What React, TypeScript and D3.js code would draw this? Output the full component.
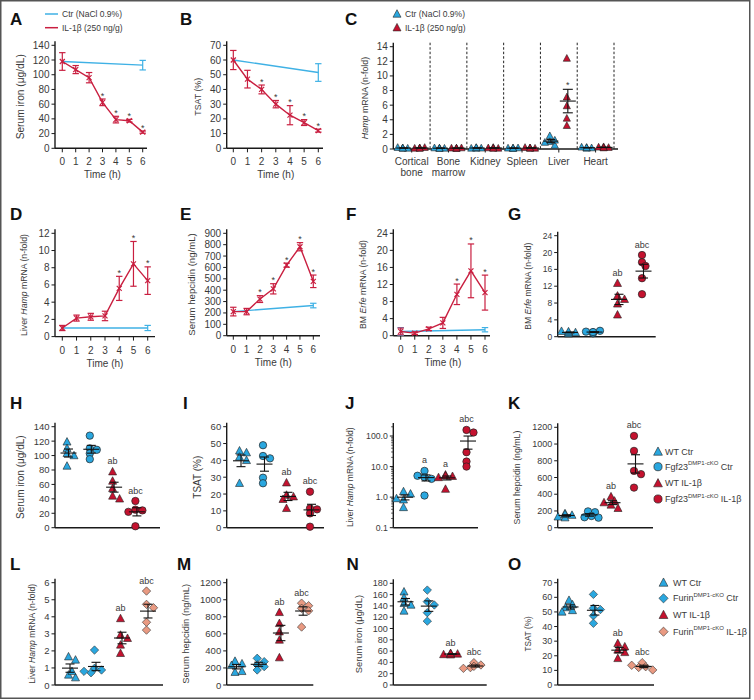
import React from 'react';
import * as d3 from 'd3';

const FONT = "'Liberation Sans', Arial, Helvetica, sans-serif";
const C_BLUE = '#2aa7df';
const C_RED = '#c4122f';
const C_PINK = '#e99a82';
const L_BLUE = '#3fb1e5';
const L_RED = '#c91f40';
const INK = '#1a1a1a';
const TXT = '#3a3a3a';

// ---------------- time-course data (A, B, D, E, F) ----------------
const timeH = [0, 1, 2, 3, 4, 5, 6];
const ctrTimes = [0, 6];

const ironIL = [118, 107, 96, 62.5, 39, 37.5, 22];
const ironILErr = [12, 5.5, 7, 4.5, 4.5, 1.8, 1.5];
const ironCtr = [118, 113];
const ironCtrErr = [0, 6.5];
const ironSig = [3, 4, 5, 6];

const tsatIL = [60, 47, 40, 30, 22.5, 17.5, 12];
const tsatILErr = [6.5, 6, 3, 2.5, 6.5, 2, 1];
const tsatCtr = [60, 51.5];
const tsatCtrErr = [0, 6];
const tsatSig = [2, 3, 4, 5, 6];

const hampIL = [1.0, 2.15, 2.3, 2.4, 5.6, 8.45, 6.5];
const hampILErr = [0.3, 0.35, 0.4, 0.55, 1.4, 2.6, 1.6];
const hampCtr = [1, 1];
const hampCtrErr = [0, 0.3];
const hampSig = [4, 5, 6];

const hepIL = [212, 212, 322, 412, 620, 782, 478];
const hepILErr = [38, 28, 30, 45, 18, 36, 55];
const hepCtr = [212, 265];
const hepCtrErr = [0, 20];
const hepSig = [2, 3, 4, 5, 6];

const erfeIL = [1.0, 0.6, 1.6, 3.0, 9.7, 15.2, 10.1];
const erfeILErr = [0.8, 0.3, 0.4, 1.3, 2.4, 6.3, 4.1];
const erfeCtr = [1.0, 1.4];
const erfeCtrErr = [0.9, 0.5];
const erfeSig = [4, 5, 6];

// ---------------- tissue Hamp (C) ----------------
const tissueLines = [['Cortical', 'bone'], ['Bone', 'marrow'], ['Kidney'], ['Spleen'], ['Liver'], ['Heart']];
const tissueCtr = [
  [0.15, 0.1, 0.2, 0.1, 0.12],
  [0.12, 0.1, 0.15, 0.1, 0.08],
  [0.15, 0.12, 0.1, 0.1, 0.2],
  [0.1, 0.15, 0.12, 0.1, 0.1],
  [1.8, 1.0, 0.5, 1.2, 0.9],
  [0.2, 0.15, 0.25, 0.1, 0.18],
];
const tissueIL = [
  [0.15, 0.2, 0.1, 0.12, 0.1],
  [0.1, 0.15, 0.12, 0.1, 0.1],
  [0.2, 0.1, 0.15, 0.12, 0.1],
  [0.15, 0.1, 0.2, 0.1, 0.12],
  [12.4, 7.1, 5.9, 4.2, 3.2],
  [0.3, 0.2, 0.25, 0.15, 0.2],
];
const tissueSig = [4];

// ---------------- dot plots ----------------
const erfeG = [[0.7, 1.0, 1.3, 0.9, 1.2], [1.0, 1.4, 1.2, 0.8, 1.1], [12.7, 9.7, 8.9, 7.8, 5.2], [19.4, 17.7, 16.8, 13.9, 10.1]];
const ironH = [[119, 110, 103, 100, 85.5], [127.6, 110, 108, 103, 95], [77.6, 64.7, 54.5, 44, 40], [37, 25, 24, 22, 2]];
const tsatI = [[45.7, 44.6, 42, 40, 26.4], [49, 42.6, 41.2, 29.7, 26.4], [26.7, 19.4, 18.4, 16.9, 11.5], [21.4, 11.5, 10.9, 8.5, 0.6]];
const hampJ = [[1.52, 1.28, 0.82, 0.46, 0.9], [7.2, 4.5, 3.96, 1.13, 5.0], [5.35, 4.8, 4.4, 1.83, 5.0], [158, 130, 29.5, 14.6, 10]];
const hepK = [[170, 150, 130, 120, 160], [195, 185, 140, 125, 120], [371, 320, 272, 232, 300], [1097, 918, 679, 640, 479]];
const hampL = [[1.66, 1.47, 0.59, 0.43, 0.8], [2.05, 0.98, 0.88, 0.72, 0.8], [3.9, 2.93, 2.74, 2.35, 1.86], [5.51, 4.73, 4.53, 3.68, 3.22]];
const hepM = [[280, 250, 230, 150, 160], [313, 274, 235, 215, 176], [852, 723, 625, 528, 321], [960, 930, 900, 870, 680]];
const ironN = [[165, 154.5, 144.5, 141.6, 131], [168, 147.5, 141.6, 128, 113], [56, 55, 54, 53.5, 55.5], [39.5, 35.4, 30.7, 29.5, 33]];
const tsatO = [[58, 55, 53, 51, 50], [62, 52.5, 51.6, 47.4, 42.2], [28.5, 26.2, 24, 22.3, 18.2], [15.3, 12.5, 12, 10.3, 13.5]];

const sigG = ['', '', 'ab', 'abc'];
const sigH = ['', '', 'ab', 'abc'];
const sigI = ['', '', 'ab', 'abc'];
const sigJ = ['', 'a', 'a', 'abc'];
const sigK = ['', '', 'ab', 'abc'];
const sigL = ['', '', 'ab', 'abc'];
const sigM = ['', '', 'ab', 'abc'];
const sigN = ['', '', 'ab', 'abc'];
const sigO = ['', '', 'ab', 'abc'];

const fgfShapes = ['tri', 'circ', 'tri', 'circ'];
const fgfColors = [C_BLUE, C_BLUE, C_RED, C_RED];
const furShapes = ['tri', 'dia', 'tri', 'dia'];
const furColors = [C_BLUE, C_BLUE, C_RED, C_PINK];

const fgfLegend = [
  { base: 'WT Ctr', sup: '', rest: '' },
  { base: 'Fgf23', sup: 'DMP1-cKO', rest: ' Ctr' },
  { base: 'WT IL-1β', sup: '', rest: '' },
  { base: 'Fgf23', sup: 'DMP1-cKO', rest: ' IL-1β' },
];
const furLegend = [
  { base: 'WT Ctr', sup: '', rest: '' },
  { base: 'Furin', sup: 'DMP1-cKO', rest: ' Ctr' },
  { base: 'WT IL-1β', sup: '', rest: '' },
  { base: 'Furin', sup: 'DMP1-cKO', rest: ' IL-1β' },
];

const jTicks = [0.1, 1, 10, 100];
const jDecades = [0.1, 1, 10, 100];

// ---------------- helpers ----------------
function Marker({ shape, x, y, fill, s = 1 }: any) {
  if (shape === 'circ') return <circle cx={x} cy={y} r={3.7 * s} fill={fill} stroke="#222" strokeWidth={0.7} />;
  if (shape === 'dia') {
    const h = 4.2 * s;
    return <path d={`M${x},${y - h}L${x + h},${y}L${x},${y + h}L${x - h},${y}Z`} fill={fill} stroke="#333" strokeWidth={0.6} />;
  }
  const w = 4 * s, ht = 4.3 * s, hb = 3.2 * s;
  return <path d={`M${x},${y - ht}L${x + w},${y + hb}L${x - w},${y + hb}Z`} fill={fill} stroke="#222" strokeWidth={0.6} />;
}

function spread(ys: number[], d: number, step = 3.5): number[] {
  const placed: [number, number][] = [];
  return ys.map((yv) => {
    const cands = [0, step, -step, 2 * step, -2 * step, 3 * step, -3 * step];
    let best = 0;
    for (const c of cands) {
      if (placed.every(([px, py]) => Math.hypot(px - c, py - yv) >= d)) { best = c; break; }
    }
    placed.push([best, yv]);
    return best;
  });
}

function Letter({ x, y, t }: any) {
  return <text x={x} y={y} fontSize={17} fontWeight={700} fill="#111">{t}</text>;
}

function YAxis({ x, scale, ticks, top, bottom, size, fmt }: any) {
  return (
    <g>
      <line x1={x} x2={x} y1={top} y2={bottom} stroke={INK} strokeWidth={1.4} />
      {ticks.map((t: number) => (
        <g key={t}>
          <line x1={x - 3.5} x2={x} y1={scale(t)} y2={scale(t)} stroke={INK} strokeWidth={1} />
          <text x={x - 5.5} y={scale(t)} textAnchor="end" dominantBaseline="central" fontSize={size} fill={TXT}>
            {fmt ? fmt(t) : t}
          </text>
        </g>
      ))}
    </g>
  );
}

function VTitle({ x, y, size, children }: any) {
  return (
    <text transform={`translate(${x},${y}) rotate(-90)`} textAnchor="middle" dominantBaseline="central" fontSize={size} fill={TXT}>
      {children}
    </text>
  );
}

function ErrBar({ x, lo, hi, color, cap = 3.2 }: any) {
  return (
    <g stroke={color} strokeWidth={1.2}>
      <line x1={x} x2={x} y1={lo} y2={hi} />
      <line x1={x - cap} x2={x + cap} y1={lo} y2={lo} />
      <line x1={x - cap} x2={x + cap} y1={hi} y2={hi} />
    </g>
  );
}

function TimePanel({ cfg, il, ilErr, ctr, ctrErr, sig }: any) {
  const x = d3.scaleLinear().domain([0, 6]).range([cfg.t0, cfg.t6]);
  const y = d3.scaleLinear().domain([0, cfg.max]).range([cfg.y0, cfg.yTop]);
  const ticks = d3.range(0, cfg.max + cfg.step / 2, cfg.step);
  const line = d3.line<number>().x((_, i) => x(timeH[i])).y((d) => y(d));
  const ctrLine = d3.line<number>().x((_, i) => x(ctrTimes[i])).y((d) => y(d));
  return (
    <g>
      <Letter x={cfg.lx} y={cfg.ly} t={cfg.letter} />
      <YAxis x={cfg.ax} scale={y} ticks={ticks} top={cfg.yTop - 4} bottom={cfg.y0} size={cfg.tick} />
      <line x1={cfg.ax} x2={cfg.axEnd} y1={cfg.y0} y2={cfg.y0} stroke={INK} strokeWidth={1.4} />
      {timeH.map((t) => (
        <g key={t}>
          <line x1={x(t)} x2={x(t)} y1={cfg.y0} y2={cfg.y0 + 4} stroke={INK} strokeWidth={1} />
          <text x={x(t)} y={cfg.y0 + 13.5} textAnchor="middle" dominantBaseline="central" fontSize={cfg.tick} fill={TXT}>{t}</text>
        </g>
      ))}
      <text x={(cfg.t0 + cfg.t6) / 2} y={cfg.y0 + 26.5} textAnchor="middle" dominantBaseline="central" fontSize={10} fill={TXT}>Time (h)</text>
      <path d={ctrLine(ctr) || ''} fill="none" stroke={L_BLUE} strokeWidth={1.4} />
      {ctr.map((v: number, i: number) =>
        ctrErr[i] > 0 ? <ErrBar key={i} x={x(ctrTimes[i])} lo={y(v - ctrErr[i])} hi={y(v + ctrErr[i])} color={L_BLUE} /> : null
      )}
      <path d={line(il) || ''} fill="none" stroke={L_RED} strokeWidth={1.4} />
      {il.map((v: number, i: number) => (
        <g key={i}>
          <ErrBar x={x(timeH[i])} lo={y(Math.max(0, v - ilErr[i]))} hi={y(v + ilErr[i])} color={L_RED} />
          <g stroke={L_RED} strokeWidth={1.2}>
            <line x1={x(timeH[i]) - 2.5} x2={x(timeH[i]) + 2.5} y1={y(v) - 2.5} y2={y(v) + 2.5} />
            <line x1={x(timeH[i]) - 2.5} x2={x(timeH[i]) + 2.5} y1={y(v) + 2.5} y2={y(v) - 2.5} />
          </g>
        </g>
      ))}
      {sig.map((i: number) => (
        <text key={i} x={x(timeH[i])} y={y(il[i] + ilErr[i]) - 0.5} textAnchor="middle" fontSize={9} fill={TXT}>*</text>
      ))}
      <VTitle x={cfg.tx} y={(cfg.y0 + cfg.yTop) / 2} size={cfg.tsize}>{cfg.title}</VTitle>
    </g>
  );
}

function MeanSem({ x, scale, vals, w = 8, cap = 4.5 }: any) {
  const m = d3.mean(vals) as number;
  const sem = (d3.deviation(vals) as number) / Math.sqrt(vals.length);
  const lo = scale(Math.max(m - sem, 0.11));
  const hi = scale(m + sem);
  return (
    <g stroke="#111" strokeWidth={1.1}>
      <line x1={x - w} x2={x + w} y1={scale(m)} y2={scale(m)} />
      <line x1={x} x2={x} y1={lo} y2={hi} />
      <line x1={x - cap} x2={x + cap} y1={lo} y2={lo} />
      <line x1={x - cap} x2={x + cap} y1={hi} y2={hi} />
    </g>
  );
}

function DotPanel({ cfg, groups, labels, shapes, colors }: any) {
  const y: any = cfg.log
    ? d3.scaleLog().domain([0.1, 100]).range([cfg.y0, 436])
    : d3.scaleLinear().domain([0, cfg.max]).range([cfg.y0, cfg.yTop]);
  const ticks = cfg.log ? jTicks : d3.range(0, cfg.max + cfg.step / 2, cfg.step);
  const gx = (i: number) => cfg.g0 + i * cfg.gStep;
  const top = cfg.log ? 423 : cfg.yTop - 4;
  const minor: number[] = [];
  if (cfg.log) {
    jDecades.forEach((dec) => d3.range(2, 10).forEach((k) => { const v = dec * k; if (y(v) >= top) minor.push(v); }));
  }
  return (
    <g>
      <Letter x={cfg.lx} y={cfg.ly} t={cfg.letter} />
      <YAxis x={cfg.ax} scale={y} ticks={ticks} top={top} bottom={cfg.y0} size={cfg.tick} fmt={cfg.log ? (t: number) => t.toFixed(1) : undefined} />
      {minor.map((v) => <line key={v} x1={cfg.ax - 2.2} x2={cfg.ax} y1={y(v)} y2={y(v)} stroke={INK} strokeWidth={0.7} />)}
      <line x1={cfg.ax} x2={cfg.axEnd} y1={cfg.y0} y2={cfg.y0} stroke={INK} strokeWidth={1.4} />
      {groups.map((vals: number[], gi: number) => {
        const ys = vals.map((v) => y(v));
        const offs = spread(ys, 5);
        const topY = d3.min(ys) as number;
        return (
          <g key={gi}>
            {vals.map((v, i) => <Marker key={i} shape={shapes[gi]} x={gx(gi) + offs[i]} y={ys[i]} fill={colors[gi]} />)}
            <MeanSem x={gx(gi) + 1.5} scale={y} vals={vals} />
            {labels[gi] ? (
              <text x={gx(gi)} y={topY - 10.5} textAnchor="middle" dominantBaseline="central" fontSize={9} fill={TXT}>{labels[gi]}</text>
            ) : null}
          </g>
        );
      })}
      <VTitle x={cfg.tx} y={(cfg.y0 + cfg.yTop) / 2} size={cfg.tsize}>{cfg.title}</VTitle>
    </g>
  );
}

function Legend({ x, tx, ys, items, shapes, colors, size }: any) {
  return (
    <g>
      {items.map((it: any, i: number) => (
        <g key={i}>
          <Marker shape={shapes[i]} x={x} y={ys[i]} fill={colors[i]} s={1.1} />
          <text x={tx} y={ys[i]} dominantBaseline="central" fontSize={size} fill={TXT}>
            {it.base}
            {it.sup ? <tspan dy={-3.5} fontSize={6}>{it.sup}</tspan> : null}
            {it.sup ? <tspan dy={3.5}>{it.rest}</tspan> : null}
          </text>
        </g>
      ))}
    </g>
  );
}

function TissuePanel() {
  const y = d3.scaleLinear().domain([0, 14]).range([149, 46.7]);
  const band = d3.scaleBand<number>().domain(d3.range(tissueLines.length)).range([393.3, 614]);
  const ticks = d3.range(0, 15, 2);
  const x0 = 393.3, xEnd = 618;
  return (
    <g>
      <Letter x={345} y={25} t="C" />
      <Marker shape="tri" x={397} y={14} fill={C_BLUE} s={1} />
      <text x={405} y={14} dominantBaseline="central" fontSize={8.5} fill={TXT}>Ctr (NaCl 0.9%)</text>
      <Marker shape="tri" x={397} y={27.7} fill={C_RED} s={1} />
      <text x={405} y={27.7} dominantBaseline="central" fontSize={8.5} fill={TXT}>IL-1β (250 ng/g)</text>
      <YAxis x={x0} scale={y} ticks={ticks} top={42.7} bottom={149} size={10} />
      {d3.range(1, tissueLines.length + 1).map((i) => {
        const bx = (band(0) as number) + band.step() * i;
        return <line key={i} x1={bx} x2={bx} y1={42.7} y2={149} stroke="#222" strokeWidth={1} strokeDasharray="2.5,2" />;
      })}
      <line x1={x0} x2={xEnd} y1={149} y2={149} stroke={INK} strokeWidth={1.4} />
      {tissueLines.map((lines, i) => {
        const cx = (band(i) as number) + band.bandwidth() / 2;
        const ctrYs = tissueCtr[i].map((v) => y(v));
        const ilYs = tissueIL[i].map((v) => y(v));
        const oc = spread(ctrYs, 4.5, 2.5);
        const oi = spread(ilYs, 4.5, 2.5);
        const il = tissueIL[i];
        const ilTop = (d3.mean(il) as number) + (d3.deviation(il) as number) / Math.sqrt(il.length);
        return (
          <g key={i}>
            <line x1={cx} x2={cx} y1={149} y2={152.5} stroke={INK} strokeWidth={1} />
            {lines.map((l, j) => (
              <text key={j} x={cx} y={161.7 + j * 11} textAnchor="middle" dominantBaseline="central" fontSize={10} fill={TXT}>{l}</text>
            ))}
            {tissueCtr[i].map((v, k) => <Marker key={'c' + k} shape="tri" x={cx - 9 + oc[k]} y={ctrYs[k]} fill={C_BLUE} s={0.9} />)}
            {il.map((v, k) => <Marker key={'r' + k} shape="tri" x={cx + 8 + oi[k]} y={ilYs[k]} fill={C_RED} s={0.9} />)}
            <MeanSem x={cx - 8} scale={y} vals={tissueCtr[i]} w={7.5} cap={4.5} />
            <MeanSem x={cx + 9} scale={y} vals={il} w={8} cap={5} />
            {tissueSig.includes(i) ? (
              <text x={cx + 9} y={y(ilTop) - 1.5} textAnchor="middle" fontSize={9} fill={TXT}>*</text>
            ) : null}
          </g>
        );
      })}
      <VTitle x={365} y={98} size={8.9}>
        <tspan fontStyle="italic">Hamp</tspan> mRNA (n-fold)
      </VTitle>
    </g>
  );
}

const cfgA = { letter: 'A', lx: 10, ly: 25, ax: 55, axEnd: 147, t0: 62.3, t6: 142.7, y0: 148.3, yTop: 45.3, max: 140, step: 20, tick: 10, tx: 20, tsize: 10.2, title: 'Serum iron (μg/dL)' };
const cfgB = { letter: 'B', lx: 180, ly: 25, ax: 226.7, axEnd: 323, t0: 233.3, t6: 318.3, y0: 148.3, yTop: 45.3, max: 70, step: 10, tick: 10, tx: 198, tsize: 8.8, title: 'TSAT (%)' };
const cfgD = { letter: 'D', lx: 10, ly: 220, ax: 55, axEnd: 155, t0: 62.3, t6: 147.7, y0: 336.6, yTop: 233.3, max: 12, step: 2, tick: 10, tx: 24, tsize: 8.7, title: <>Liver <tspan fontStyle="italic">Hamp</tspan> mRNA (n-fold)</> };
const cfgE = { letter: 'E', lx: 180, ly: 220, ax: 226.7, axEnd: 320, t0: 233.3, t6: 313.3, y0: 335.7, yTop: 233.3, max: 900, step: 100, tick: 10, tx: 191, tsize: 9.6, title: 'Serum hepcidin (ng/mL)' };
const cfgF = { letter: 'F', lx: 346, ly: 220, ax: 393.3, axEnd: 490, t0: 400.7, t6: 485, y0: 335.7, yTop: 233.3, max: 24, step: 4, tick: 10, tx: 363, tsize: 8.7, title: <>BM <tspan fontStyle="italic">Erfe</tspan> mRNA (n-fold)</> };

const cfgG = { letter: 'G', lx: 508, ly: 220, ax: 557.7, axEnd: 655.7, g0: 568.5, gStep: 24.5, y0: 336.7, yTop: 235.7, max: 24, step: 4, tick: 8.5, tx: 528, tsize: 8.5, title: <>BM <tspan fontStyle="italic">Erfe</tspan> mRNA (n-fold)</> };
const cfgH = { letter: 'H', lx: 10, ly: 409, ax: 55, axEnd: 160, g0: 67, gStep: 22.8, y0: 527.7, yTop: 426.7, max: 140, step: 20, tick: 9.5, tx: 20, tsize: 10, title: 'Serum iron (μg/dL)' };
const cfgI = { letter: 'I', lx: 183, ly: 409, ax: 226.7, axEnd: 324, g0: 239.5, gStep: 23.5, y0: 527.7, yTop: 426.7, max: 60, step: 10, tick: 9.5, tx: 197, tsize: 10, title: 'TSAT (%)' };
const cfgJ = { letter: 'J', lx: 345, ly: 409, ax: 393.3, axEnd: 478, g0: 403.5, gStep: 21, y0: 527.7, yTop: 426.7, log: true, tick: 8.7, tx: 350, tsize: 8.5, title: <>Liver <tspan fontStyle="italic">Hamp</tspan> mRNA (n-fold)</> };
const cfgK = { letter: 'K', lx: 508, ly: 409, ax: 557.7, axEnd: 653, g0: 565, gStep: 23, y0: 527.7, yTop: 427.3, max: 1200, step: 200, tick: 9, tx: 517, tsize: 8.8, title: 'Serum hepcidin (ng/mL)' };
const cfgL = { letter: 'L', lx: 10, ly: 570, ax: 55, axEnd: 163, g0: 68.5, gStep: 26, y0: 685, yTop: 582.7, max: 6, step: 1, tick: 9.5, tx: 32, tsize: 8.5, title: <>Liver <tspan fontStyle="italic">Hamp</tspan> mRNA (n-fold)</> };
const cfgM = { letter: 'M', lx: 177, ly: 570, ax: 226.7, axEnd: 313.3, g0: 235, gStep: 22.2, y0: 685, yTop: 582.7, max: 1200, step: 200, tick: 9.5, tx: 185, tsize: 9.4, title: 'Serum hepcidin (ng/mL)' };
const cfgN = { letter: 'N', lx: 346.5, ly: 570, ax: 393.3, axEnd: 486.7, g0: 404, gStep: 23.3, y0: 685, yTop: 583.3, max: 180, step: 20, tick: 9, tx: 358, tsize: 9.4, title: 'Serum iron (μg/dL)' };
const cfgO = { letter: 'O', lx: 508, ly: 570, ax: 557.7, axEnd: 654, g0: 569, gStep: 24.4, y0: 685, yTop: 582.7, max: 70, step: 10, tick: 9, tx: 528, tsize: 8.2, title: 'TSAT (%)' };

export default function App() {
  return (
    <svg width={754} height={700} style={{ position: 'absolute', left: 0, top: 0, background: '#fff' }} fontFamily={FONT}>
      <rect x={0} y={0} width={754} height={700} fill="#fff" />
      <rect x={0.75} y={0.75} width={749} height={697.5} fill="none" stroke="#555" strokeWidth={1.5} />

      {/* legend A/B */}
      <line x1={45} x2={58} y1={14} y2={14} stroke={L_BLUE} strokeWidth={1.5} />
      <text x={62} y={14} dominantBaseline="central" fontSize={8.5} fill={TXT}>Ctr (NaCl 0.9%)</text>
      <line x1={45} x2={58} y1={27.7} y2={27.7} stroke={L_RED} strokeWidth={1.5} />
      <text x={62} y={27.7} dominantBaseline="central" fontSize={8.5} fill={TXT}>IL-1β (250 ng/g)</text>

      <TimePanel cfg={cfgA} il={ironIL} ilErr={ironILErr} ctr={ironCtr} ctrErr={ironCtrErr} sig={ironSig} />
      <TimePanel cfg={cfgB} il={tsatIL} ilErr={tsatILErr} ctr={tsatCtr} ctrErr={tsatCtrErr} sig={tsatSig} />
      <TissuePanel />
      <TimePanel cfg={cfgD} il={hampIL} ilErr={hampILErr} ctr={hampCtr} ctrErr={hampCtrErr} sig={hampSig} />
      <TimePanel cfg={cfgE} il={hepIL} ilErr={hepILErr} ctr={hepCtr} ctrErr={hepCtrErr} sig={hepSig} />
      <TimePanel cfg={cfgF} il={erfeIL} ilErr={erfeILErr} ctr={erfeCtr} ctrErr={erfeCtrErr} sig={erfeSig} />

      <DotPanel cfg={cfgG} groups={erfeG} labels={sigG} shapes={fgfShapes} colors={fgfColors} />
      <DotPanel cfg={cfgH} groups={ironH} labels={sigH} shapes={fgfShapes} colors={fgfColors} />
      <DotPanel cfg={cfgI} groups={tsatI} labels={sigI} shapes={fgfShapes} colors={fgfColors} />
      <DotPanel cfg={cfgJ} groups={hampJ} labels={sigJ} shapes={fgfShapes} colors={fgfColors} />
      <DotPanel cfg={cfgK} groups={hepK} labels={sigK} shapes={fgfShapes} colors={fgfColors} />
      <Legend x={658} tx={665} ys={[451.7, 466.7, 483.3, 499]} items={fgfLegend} shapes={fgfShapes} colors={fgfColors} size={9} />

      <DotPanel cfg={cfgL} groups={hampL} labels={sigL} shapes={furShapes} colors={furColors} />
      <DotPanel cfg={cfgM} groups={hepM} labels={sigM} shapes={furShapes} colors={furColors} />
      <DotPanel cfg={cfgN} groups={ironN} labels={sigN} shapes={furShapes} colors={furColors} />
      <DotPanel cfg={cfgO} groups={tsatO} labels={sigO} shapes={furShapes} colors={furColors} />
      <Legend x={663.5} tx={673} ys={[582.7, 598.3, 615, 631.7]} items={furLegend} shapes={furShapes} colors={furColors} size={9} />
    </svg>
  );
}
